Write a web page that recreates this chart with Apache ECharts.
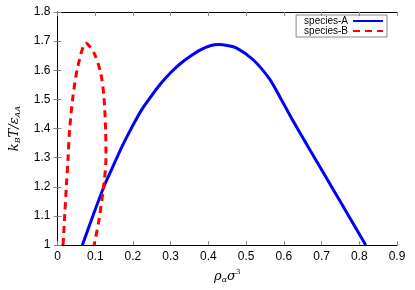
<!DOCTYPE html>
<html><head><meta charset="utf-8">
<script src="https://cdn.jsdelivr.net/npm/echarts@6/dist/echarts.min.js"></script>
<style>html,body{margin:0;padding:0;background:#fff}#c{width:415px;height:290px}</style>
</head><body><div id="c"></div>
<script>
const xTicks = [0,0.1,0.2,0.3,0.4,0.5,0.6,0.7,0.8,0.9];
const yTicks = [1,1.1,1.2,1.3,1.4,1.5,1.6,1.7,1.8];
const seriesNames = ['species-A','species-B'];
const speciesA_x = [0.066,0.093,0.123,0.145,0.171,0.197,0.223,0.249,0.275,0.301,0.327,0.353,0.379,0.405,0.427,0.45,0.474,0.518,0.561,0.591,0.622,0.665,0.708,0.752,0.795,0.817];
const speciesA_y = [1.0,1.097,1.2,1.264,1.338,1.404,1.464,1.512,1.556,1.593,1.624,1.649,1.670,1.684,1.688,1.685,1.677,1.637,1.572,1.505,1.432,1.336,1.241,1.144,1.049,1.0];
const speciesB_x = [0.0148,0.019,0.0234,0.028,0.032,0.041,0.054,0.0754,0.097,0.1145,0.123,0.1275,0.1285,0.123,0.11,0.097];
const speciesB_y = [1.0,1.10,1.20,1.298,1.395,1.51,1.613,1.693,1.659,1.59,1.51,1.395,1.30,1.21,1.086,1.0];

const zip = (a,b) => a.map((v,i)=>[v,b[i]]);
const chart = echarts.init(document.getElementById('c'));
const axisCommon = {
  axisLine:{show:true,lineStyle:{color:'#000',width:1}},
  axisTick:{show:true,inside:true,length:4,lineStyle:{color:'#888'}},
  splitLine:{show:false}
};
chart.setOption({
  animation:false,
  grid:{left:51,right:18,top:12,bottom:45},
  legend:{
    right:28, top:15, orient:'vertical', align:'right',
    itemWidth:30, itemHeight:8, itemGap:0,
    itemStyle:{opacity:0},
    borderColor:'#888', borderWidth:1, padding:[1,3,1,8], borderRadius:0,
    textStyle:{fontFamily:'Liberation Sans',fontSize:10,color:'#000',padding:[0,0,0,0]},
    data:seriesNames
  },
  xAxis:[Object.assign({type:'value',min:0,max:0.9,interval:0.1,
    name:'{i|ρ}{s|α}{i|σ}{p|3}', nameLocation:'middle', nameGap:24,
    nameTextStyle:{rich:{
      i:{fontFamily:'DejaVu Serif',fontStyle:'italic',fontSize:13,color:'#000'},
      s:{fontFamily:'DejaVu Serif',fontStyle:'italic',fontSize:8,verticalAlign:'bottom',padding:[6,0,0,0],color:'#000'},
      p:{fontFamily:'DejaVu Serif',fontSize:7,verticalAlign:'top',padding:[0,0,8,0],color:'#000'}}},
    axisLabel:{fontFamily:'Liberation Sans',fontSize:12,color:'#000',margin:6,
      formatter:v=>String(Math.round(v*10)/10)}},axisCommon),
    Object.assign({type:'value',min:0,max:0.9,interval:0.1,position:'top',axisLabel:{show:false}},axisCommon)],
  yAxis:[Object.assign({type:'value',min:1,max:1.8,interval:0.1,
    name:'{i|k}{s|B}{i|T/ε}{s|AA}', nameLocation:'middle', nameGap:36, nameRotate:90,
    nameTextStyle:{rich:{
      i:{fontFamily:'DejaVu Serif',fontStyle:'italic',fontSize:13,color:'#000'},
      s:{fontFamily:'DejaVu Serif',fontStyle:'italic',fontSize:8,verticalAlign:'bottom',padding:[6,0,0,0],color:'#000'}}},
    axisLabel:{fontFamily:'Liberation Sans',fontSize:12,color:'#000',margin:7,
      formatter:v=>String(Math.round(v*10)/10)}},axisCommon),
    Object.assign({type:'value',min:1,max:1.8,interval:0.1,position:'right',axisLabel:{show:false}},axisCommon)],
  series:[
    {name:seriesNames[0],type:'line',data:zip(speciesA_x,speciesA_y),smooth:0.3,symbol:'none',
      lineStyle:{color:'#0000ff',width:3},itemStyle:{color:'#0000ff'}},
    {name:seriesNames[1],type:'line',data:zip(speciesB_x,speciesB_y),smooth:0.3,symbol:'none',
      lineStyle:{color:'#ff0000',width:3,type:[7,5]},itemStyle:{color:'#ff0000'}}
  ]
});
</script></body></html>
